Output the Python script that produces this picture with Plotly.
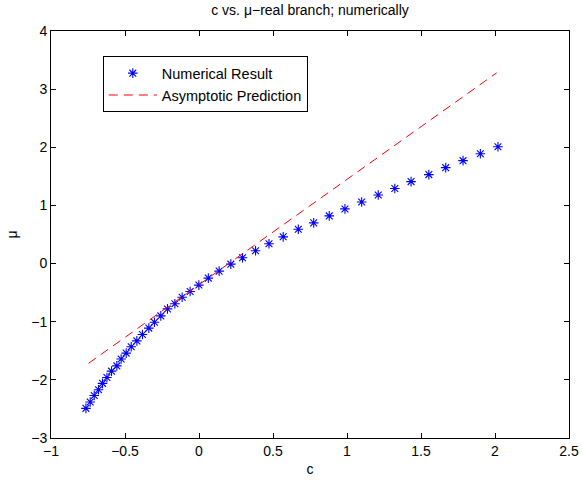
import plotly.graph_objects as go

c_num = [-0.764, -0.735, -0.708, -0.679, -0.652, -0.622, -0.591, -0.555, -0.526, -0.492,
         -0.458, -0.420, -0.382, -0.339, -0.301, -0.258, -0.213, -0.163, -0.114, -0.060,
         -0.001, 0.063, 0.136, 0.215, 0.294, 0.382, 0.473, 0.569, 0.671, 0.775,
         0.880, 0.986, 1.099, 1.211, 1.323, 1.433, 1.553, 1.667, 1.784, 1.901, 2.020]
mu_num = [-2.49, -2.38, -2.27, -2.17, -2.06, -1.96, -1.85, -1.76, -1.64, -1.54,
          -1.43, -1.33, -1.22, -1.11, -1.01, -0.90, -0.78, -0.69, -0.58, -0.48,
          -0.37, -0.25, -0.13, -0.01, 0.10, 0.22, 0.34, 0.46, 0.59, 0.70,
          0.82, 0.94, 1.06, 1.18, 1.29, 1.41, 1.53, 1.65, 1.77, 1.89, 2.01]
c_asym = [-0.746, 2.011]
mu_asym = [-1.715, 3.28]

font = "Liberation Sans, Arial, sans-serif"

fig = go.Figure()
fig.add_trace(go.Scatter(x=c_num, y=mu_num, mode="markers", name="Numerical Result",
                         marker=dict(symbol="asterisk-open", size=8, color="blue",
                                     line=dict(color="blue", width=1.1))))
fig.add_trace(go.Scatter(x=c_asym, y=mu_asym, mode="lines", name="Asymptotic Prediction",
                         line=dict(color="red", width=1, dash="9px,6px")))

axis_common = dict(showline=True, linecolor="black", linewidth=1, mirror="allticks",
                   ticks="inside", ticklen=5, tickcolor="black", showgrid=False,
                   zeroline=False, automargin=False,
                   tickfont=dict(family=font, size=14, color="black"))
fig.update_xaxes(range=[-1, 2.5], tickvals=[-1, -0.5, 0, 0.5, 1, 1.5, 2, 2.5],
                 title=dict(text="c", font=dict(family=font, size=14, color="black"), standoff=6),
                 **axis_common)
fig.update_yaxes(range=[-3, 4], tickvals=[-3, -2, -1, 0, 1, 2, 3, 4],
                 title=dict(text="μ", font=dict(family=font, size=14, color="black"), standoff=10),
                 **axis_common)

fig.update_layout(
    width=583, height=483,
    margin=dict(l=51, r=14, t=31, b=45, autoexpand=False),
    paper_bgcolor="white", plot_bgcolor="white",
    title=dict(text="c vs. μ−real branch; numerically", x=0.5, xref="paper", xanchor="center",
               y=1, yref="container", yanchor="top", pad=dict(t=5),
               font=dict(family=font, size=14, color="black")),
    legend=dict(x=0.1, y=0.938, xanchor="left", yanchor="top",
                bgcolor="white", bordercolor="black", borderwidth=1,
                font=dict(family=font, size=14.5, color="black"),
                tracegroupgap=0, itemwidth=48),
    showlegend=True,
)

fig.write_html("out.html")
